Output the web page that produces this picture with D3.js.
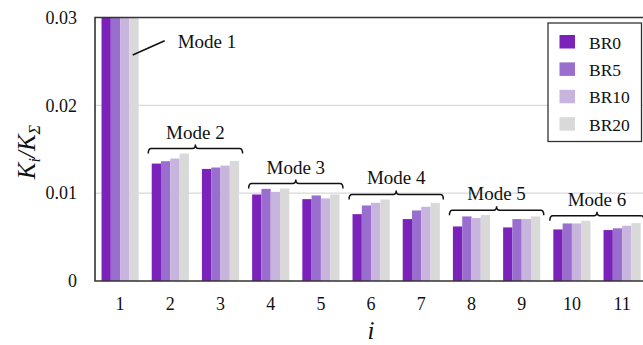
<!DOCTYPE html>
<html><head><meta charset="utf-8">
<script src="https://cdn.jsdelivr.net/npm/d3@7"></script>
<style>body{margin:0;background:#fff}svg{display:block}svg text{font-family:"Liberation Serif",Tinos,"Times New Roman",Times,"DejaVu Serif",serif !important;fill:#111}</style>
</head><body>
<svg id="c" width="643" height="345"></svg>
<script>
const categories = ["1","2","3","4","5","6","7","8","9","10","11"];
const seriesNames = ["BR0","BR5","BR10","BR20"];
const BR0  = [0.042, 0.01337, 0.01276, 0.00985, 0.00932, 0.00761, 0.00705, 0.00621, 0.00610, 0.00587, 0.00580];
const BR5  = [0.042, 0.01364, 0.01292, 0.01049, 0.00974, 0.00860, 0.00803, 0.00735, 0.00705, 0.00655, 0.00600];
const BR10 = [0.042, 0.01394, 0.01314, 0.01015, 0.00940, 0.00890, 0.00845, 0.00716, 0.00705, 0.00655, 0.00629];
const BR20 = [0.042, 0.01451, 0.01367, 0.01053, 0.00985, 0.00928, 0.00890, 0.00750, 0.00735, 0.00685, 0.00659];
const yTicks = [0, 0.01, 0.02, 0.03];
const yTickLabels = ["0", "0.01", "0.02", "0.03"];
const modes = [
  {label:"Mode 2", from:"2", to:"3"},
  {label:"Mode 3", from:"4", to:"5"},
  {label:"Mode 4", from:"6", to:"7"},
  {label:"Mode 5", from:"8", to:"9"},
  {label:"Mode 6", from:"10", to:"11"}
];
const colors = ["#7b22ba", "#9a6ecf", "#c7b5dd", "#d9d9d9"];

const series = [BR0, BR5, BR10, BR20];
const svg = d3.select("#c");
const L = 95, R = 647.2, T = 17.5, B = 281;
const FONT = '"Liberation Serif", Tinos, "Times New Roman", Times, "DejaVu Serif", serif';

const x = d3.scaleBand().domain(categories).range([L, R]).paddingInner(0.26).paddingOuter(0.13);
const x1 = d3.scaleBand().domain(seriesNames).range([0, x.bandwidth()]).padding(0);
const y = d3.scaleLinear().domain([0, 0.03]).range([B, T]);
const color = d3.scaleOrdinal().domain(seriesNames).range(colors);

svg.append("defs").append("clipPath").attr("id","pc")
  .append("rect").attr("x",L).attr("y",T).attr("width",R-L).attr("height",B-T);

// gridlines
svg.append("g").selectAll("line").data(yTicks.filter(d=>d>0 && d<0.03)).join("line")
  .attr("x1",L).attr("x2",R).attr("y1",d=>y(d)).attr("y2",d=>y(d))
  .attr("stroke","#d9d9d9").attr("stroke-width",1.3);

// bars
const g = svg.append("g").attr("clip-path","url(#pc)");
categories.forEach((c,i)=>{
  seriesNames.forEach((s,j)=>{
    g.append("rect")
      .attr("x", x(c)+x1(s)).attr("width", x1.bandwidth())
      .attr("y", y(series[j][i])).attr("height", B - y(series[j][i]))
      .attr("fill", color(s));
  });
});

// frame / axes
svg.append("path").attr("d",`M${R},${T}H${L}V${B}H${R}`).attr("fill","none")
  .attr("stroke","#333").attr("stroke-width",1.6);

// y ticks
const yAxis = d3.axisLeft(y).tickValues(yTicks).tickSize(0).tickPadding(18)
  .tickFormat((d,i)=>yTickLabels[i]);
const ya = svg.append("g").attr("transform",`translate(${L},0)`).call(yAxis).attr("font-family",FONT);
ya.select(".domain").remove();
ya.selectAll("text").attr("font-size",18).attr("fill","#111");

// x ticks
const xAxis = d3.axisBottom(x).tickSize(0).tickPadding(16);
const xa = svg.append("g").attr("transform",`translate(0,${B})`).call(xAxis).attr("font-family",FONT);
xa.select(".domain").remove();
xa.selectAll("text").attr("font-size",18).attr("fill","#111");

// axis titles
svg.append("text").attr("x",(L+R)/2).attr("y",339).attr("text-anchor","middle")
  .attr("font-size",25).attr("font-style","italic").text("i");
const yl = svg.append("text").attr("transform","translate(35,152) rotate(-90)")
  .attr("text-anchor","middle").attr("font-size",25).attr("font-style","italic");
yl.append("tspan").text("K");
yl.append("tspan").attr("font-size",16).attr("dy",5).text("i");
yl.append("tspan").attr("dy",-5).text("/K");
yl.append("tspan").attr("font-size",16).attr("dy",5).text("Σ");

// Mode 1 annotation
const c1 = x("1") + x.bandwidth();
svg.append("line").attr("x1",c1-6).attr("y1",55).attr("x2",c1+26).attr("y2",40.7)
  .attr("stroke","#111").attr("stroke-width",1.5);
svg.append("text").attr("x",c1+39).attr("y",48).attr("font-size",19).text("Mode 1");

// braces
modes.forEach(m=>{
  const i0 = categories.indexOf(m.from), i1 = categories.indexOf(m.to);
  const mx = d3.max(series, s=>Math.max(s[i0], s[i1]));
  const yb = y(mx) - 5;
  const x0 = x(m.from) - 3.5, xe = x(m.to) + x.bandwidth() + 3.5, xm = (x0+xe)/2;
  const p = `M${x0},${yb+5}Q${x0},${yb} ${x0+3},${yb}L${xm-3},${yb}Q${xm},${yb} ${xm},${yb-4}Q${xm},${yb} ${xm+3},${yb}L${xe-3},${yb}Q${xe},${yb} ${xe},${yb+5}`;
  svg.append("path").attr("d",p).attr("fill","none").attr("stroke","#111").attr("stroke-width",1.5);
  svg.append("text").attr("x",xm).attr("y",yb-10).attr("text-anchor","middle").attr("font-size",19).text(m.label);
});

// legend
const lg = svg.append("g");
lg.append("rect").attr("x",548).attr("y",23).attr("width",93.5).attr("height",118.5)
  .attr("fill","#fff").attr("stroke","#333").attr("stroke-width",1.3);
seriesNames.forEach((s,j)=>{
  lg.append("rect").attr("x",559.5).attr("y",35+j*27.4).attr("width",15.5).attr("height",13.5).attr("fill",color(s));
  lg.append("text").attr("x",589).attr("y",48.5+j*27.4).attr("font-size",17.5).text(s);
});
</script>
</body></html>
